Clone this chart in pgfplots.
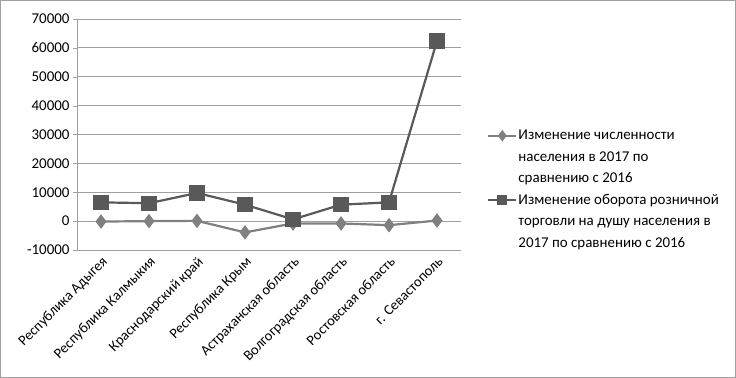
\documentclass[border=0pt]{standalone}
\usepackage{fontspec}
\setmainfont{Carlito}
\usepackage{pgfplots}
\pgfplotsset{compat=1.18}
\definecolor{popgray}{RGB}{128,128,128}
\definecolor{tradegray}{RGB}{89,89,89}
\definecolor{gridgray}{RGB}{160,160,160}

\begin{document}
\begin{tikzpicture}
  \useasboundingbox (0,0) rectangle (736bp,378bp);
  \draw[gridgray, line width=1bp] (0.5bp,0.5bp) rectangle (735.5bp,377.5bp);
  \begin{axis}[
    at={(77bp,128bp)}, anchor=south west,
    width=384bp, height=231bp, scale only axis,
    xmin=-0.5, xmax=7.5,
    ymin=-10000, ymax=70000,
    ytick={-10000,0,10000,20000,30000,40000,50000,60000,70000},
    xtick={0,1,2,3,4,5,6,7},
    xticklabels={Республика Адыгея, Республика Калмыкия, Краснодарский край,
      Республика Крым, Астраханская область, Волгоградская область,
      Ростовская область, г. Севастополь},
    xticklabel style={rotate=45, anchor=north east, inner sep=1bp,
      font=\fontsize{14.5}{16}\selectfont},
    yticklabel style={font=\fontsize{15}{17}\selectfont},
    /pgf/number format/assume math mode=true,
    scaled y ticks=false,
    yticklabel={\pgfmathprintnumber[fixed, 1000 sep={}]{\tick}},
    axis x line*=bottom, axis y line*=left,
    axis line style={gridgray, line width=0.8bp, -},
    ymajorgrids, major grid style={gridgray, line width=0.8bp},
    major tick length=4bp,
    tick style={gridgray},
    xtick style={draw=none},
    ytick pos=left, tick align=outside,
    legend style={at={(1.06,0.262)}, anchor=west, draw=none, fill=none,
      font=\fontsize{15}{21.5}\selectfont, row sep=8bp,
      nodes={align=left, inner sep=1bp}},
    legend cell align=left,
    legend image code/.code={
      \draw[#1, mark size=4bp, mark repeat=2, mark phase=2]
        plot coordinates {(0bp,21.5bp) (14bp,21.5bp) (28bp,21.5bp)};},
  ]
  \addplot[popgray, line width=2.2bp, mark=diamond*, mark size=5.5bp,
    mark options={solid, fill=popgray}] coordinates {
    (0,-150) (1,0) (2,100) (3,-3900) (4,-800) (5,-800) (6,-1400) (7,200)
  };
  \addlegendentry{Изменение численности\\населения в 2017 по\\сравнению с 2016}
  \addplot[tradegray, line width=2.2bp, mark=square*, mark size=6.5bp,
    mark options={solid, fill=tradegray}] coordinates {
    (0,6500) (1,6200) (2,9750) (3,5700) (4,600) (5,5700) (6,6500) (7,62400)
  };
  \addlegendentry{Изменение оборота розничной\\торговли на душу населения в\\2017 по сравнению с 2016}
  \end{axis}
\end{tikzpicture}
\end{document}
